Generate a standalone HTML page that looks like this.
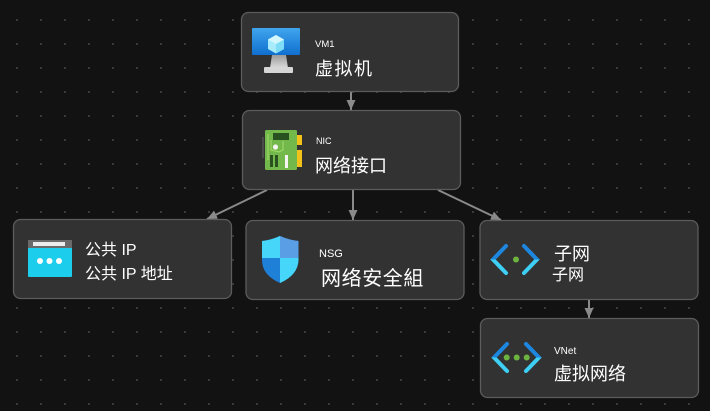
<!DOCTYPE html>
<html><head><meta charset="utf-8"><style>
html,body{margin:0;padding:0;background:#121212;}
svg{display:block;}
text{font-family:"Liberation Sans","Noto Sans CJK SC",sans-serif;fill:#fff;}
</style></head><body>
<svg width="710" height="411" viewBox="0 0 710 411" xmlns="http://www.w3.org/2000/svg">
<defs>
<pattern id="dots" x="16" y="19" width="24" height="24" patternUnits="userSpaceOnUse">
<rect x="0" y="0" width="2" height="2" fill="#3a3a3a"/>
</pattern>
<linearGradient id="scr" x1="0" y1="0" x2="0" y2="1"><stop offset="0" stop-color="#41a5ee"/><stop offset="1" stop-color="#0f6fcf"/></linearGradient>
<linearGradient id="stand" x1="0" y1="0" x2="0" y2="1"><stop offset="0" stop-color="#9a9a9a"/><stop offset="1" stop-color="#dadada"/></linearGradient>
<linearGradient id="chev" x1="0" y1="0" x2="0" y2="1"><stop offset="0" stop-color="#1d86df"/><stop offset="0.5" stop-color="#1d86df"/><stop offset="0.5" stop-color="#3ecff5"/><stop offset="1" stop-color="#3ecff5"/></linearGradient>
<marker id="ah" viewBox="0 0 10 10" refX="10" refY="5" markerWidth="10" markerHeight="10" markerUnits="userSpaceOnUse" orient="auto">
<path d="M0,0.5 L10,5 L0,9.5 Z" fill="#8a8a8a"/>
</marker>
</defs>
<rect width="710" height="411" fill="#121212"/>
<rect width="710" height="411" fill="url(#dots)"/>

<!-- connectors -->
<g stroke="#8a8a8a" stroke-width="2" fill="none">
<line x1="351" y1="92" x2="351" y2="110" marker-end="url(#ah)"/>
<line x1="353" y1="190" x2="353" y2="220" marker-end="url(#ah)"/>
<line x1="267" y1="190" x2="207" y2="219" marker-end="url(#ah)"/>
<line x1="438" y1="190" x2="501" y2="220" marker-end="url(#ah)"/>
<line x1="589" y1="300" x2="589" y2="318" marker-end="url(#ah)"/>
</g>

<!-- nodes -->
<g fill="#323232" stroke="#5c5c5c" stroke-width="1.3">
<rect x="241.5" y="12.5" width="217" height="79" rx="7"/>
<rect x="242.5" y="110.5" width="218" height="79" rx="7"/>
<rect x="13.5" y="219.5" width="218" height="79" rx="7"/>
<rect x="246" y="220.5" width="218" height="79" rx="7"/>
<rect x="480" y="220.5" width="218" height="79" rx="7"/>
<rect x="480.5" y="318.5" width="218" height="79" rx="7"/>
</g>

<!-- VM icon -->
<rect x="252" y="28" width="48" height="27" rx="1" fill="url(#scr)"/>
<polygon points="272,55 286,55 288,68 270,68" fill="url(#stand)"/>
<rect x="264" y="67" width="29" height="6" rx="1" fill="#d6d6d6"/>
<polygon points="276,35 284,39.5 284,49 276,53.5 268,49 268,39.5" fill="#a8ecfb"/>
<polygon points="276,35 284,39.5 276,44 268,39.5" fill="#d4f7fe"/>
<polygon points="276,44 284,39.5 284,49 276,53.5" fill="#7fdcf6"/>

<text x="315" y="47" font-size="9.5">VM1</text>
<text x="315" y="75" font-size="18" letter-spacing="1.5">虚拟机</text>

<!-- NIC icon -->
<rect x="262" y="137" width="2" height="21" fill="#4a4a4a"/>
<rect x="265" y="130" width="32" height="40" rx="1.5" fill="#72b84a"/>
<rect x="297" y="135" width="5" height="10" fill="#f2c21a"/>
<rect x="297" y="150" width="5" height="17" fill="#f2c21a"/>
<rect x="273" y="133" width="16" height="7" fill="#2a5220"/>
<path d="M268,134 L268,160 M271,140 L271,150 L279,152 L283,150 L283,141" stroke="#a6dc6c" stroke-width="1" fill="none"/>
<circle cx="275.5" cy="147" r="2.6" fill="#f4f4f4"/>
<rect x="270" y="155" width="3" height="12" fill="#2a5220"/>
<rect x="275" y="155" width="3" height="12" fill="#2a5220"/>
<rect x="285" y="155" width="3" height="13" fill="#f4f4f4"/>

<text x="316" y="144" font-size="9">NIC</text>
<text x="315" y="172" font-size="18">网络接口</text>

<!-- Public IP icon -->
<rect x="28" y="240" width="44" height="37" rx="1" fill="#1ccdec"/>
<rect x="28" y="240" width="44" height="8" fill="#6a6a6a"/>
<rect x="33" y="242" width="32" height="4" fill="#ececec"/>
<circle cx="40" cy="261" r="3" fill="#ffffff"/>
<circle cx="49.5" cy="261" r="3" fill="#ffffff"/>
<circle cx="59" cy="261" r="3" fill="#ffffff"/>

<text x="85" y="255" font-size="16">公共 IP</text>
<text x="85" y="279" font-size="16">公共 IP 地址</text>

<!-- NSG shield -->
<path d="M262,241 Q271,240 280,236 Q289,240 298.5,241 L298.5,260 Q298,275 280,283 Q262,275 262,260 Z" fill="#1f80d8"/>
<path d="M262,241 Q271,240 280,236 L280,258 L262,258 Z" fill="#45d6fa"/>
<path d="M280,236 Q289,240 298.5,241 L298.5,258 L280,258 Z" fill="#5a9fe6"/>
<path d="M280,258 L298.5,258 L298.5,260 Q298,275 280,283 Z" fill="#45d6fa"/>

<text x="319" y="257" font-size="11">NSG</text>
<text x="321" y="285" font-size="20" letter-spacing="0.6">网络安全組</text>

<!-- Subnet icon -->
<g stroke="url(#chev)" stroke-width="4" fill="none" stroke-linecap="round">
<polyline points="506,246 493,259.5 506,273"/>
<polyline points="524,246 537,259.5 524,273"/>
</g>
<circle cx="516" cy="259.5" r="3" fill="#6cb33f"/>

<text x="554" y="260" font-size="18">子网</text>
<text x="552" y="280" font-size="16">子网</text>

<!-- VNet icon -->
<g stroke="url(#chev)" stroke-width="4" fill="none" stroke-linecap="round">
<polyline points="507,344 494,357.5 507,371"/>
<polyline points="526,344 539,357.5 526,371"/>
</g>
<circle cx="506.7" cy="357.5" r="3" fill="#6cb33f"/>
<circle cx="516.7" cy="357.5" r="3" fill="#6cb33f"/>
<circle cx="526.7" cy="357.5" r="3" fill="#6cb33f"/>

<text x="554" y="354" font-size="10">VNet</text>
<text x="554" y="380" font-size="18">虚拟网络</text>
</svg>
</body></html>
